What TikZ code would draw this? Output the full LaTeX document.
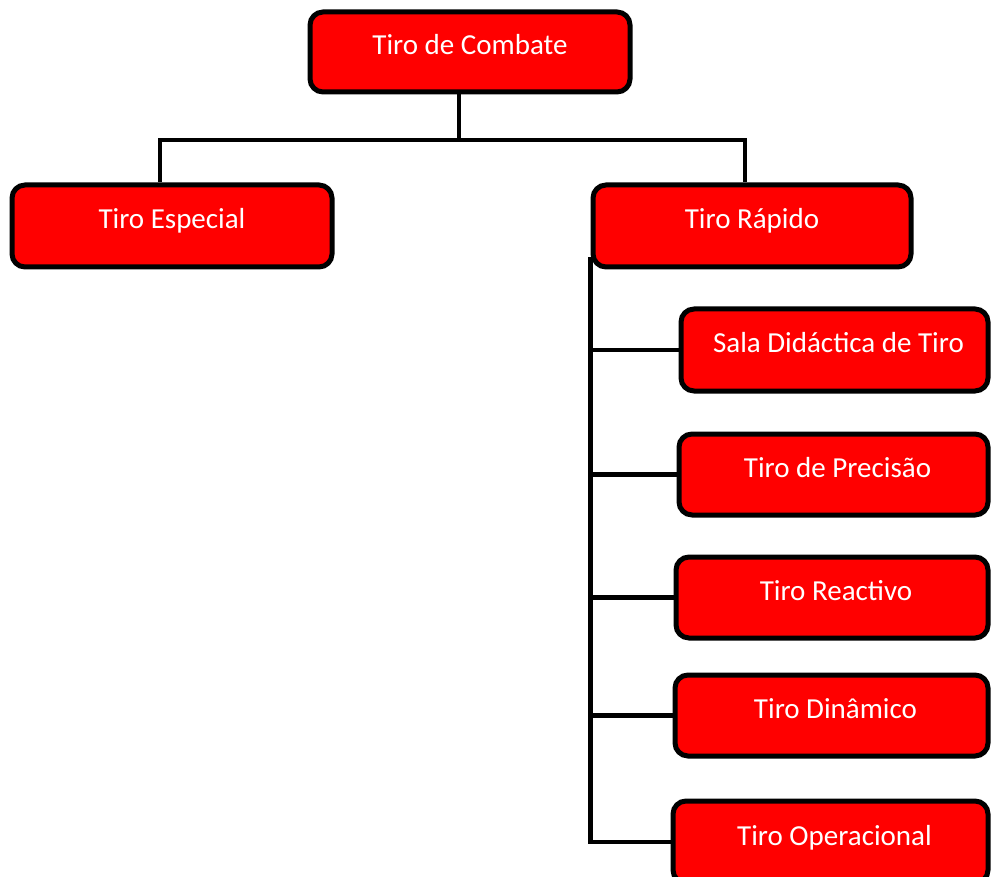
\documentclass[tikz,border=0pt]{standalone}
\usepackage{fontspec}
\setmainfont{Carlito}
\usepackage{tikz}
\usetikzlibrary{positioning, calc}
\definecolor{vermelho}{HTML}{FF0000}

\begin{document}
\begin{tikzpicture}[x=1pt, y=-1pt,
    caixa/.style={draw=black, line width=5pt, fill=vermelho, rounded corners=13pt,
        text=white, inner sep=0pt, font=\fontsize{29}{34}\selectfont,
        text height=14pt, text depth=8pt, minimum height=82pt},
    filho/.style={caixa, execute at begin node=\hspace*{8pt}},
    ligacao/.style={draw=black, line width=4.5pt}]
	\useasboundingbox (0,0) rectangle (991,877);

	\node[caixa, minimum width=320pt, minimum height=80pt] (combate) at (470,52) {Tiro de Combate};
	\node[caixa, minimum width=320pt] (especial) at (172,226) {Tiro Especial};
	\node[caixa, minimum width=318pt] (rapido) at (752,226) {Tiro Rápido};

	\node[filho, minimum width=307pt] (sala) at (834.5,350) {Sala Didáctica de Tiro};
	\node[filho, minimum width=309pt, minimum height=81pt] (precisao) at (833.5,474.5) {Tiro de Precisão};
	\node[filho, minimum width=312pt, minimum height=81pt] (reactivo) at (832,597.5) {Tiro Reactivo};
	\node[filho, minimum width=313pt, minimum height=81pt] (dinamico) at (831.5,715.5) {Tiro Dinâmico};
	\node[filho, minimum width=315pt] (operacional) at (830.5,842) {Tiro Operacional};

	% barra superior
	\coordinate (jt) at (459,140);
	\coordinate (jl) at (160,140);
	\coordinate (jr) at (745,140);
	\draw[ligacao] (jt |- combate.south) -- (jt);
	\draw[ligacao] (jl |- especial.north) -- (jl) -- (jr) -- (jr |- rapido.north);

	% tronco do Tiro Rapido
	\draw[ligacao] ([yshift=12pt]rapido.south west) -- (rapido.south west |- operacional.west) -- (operacional.west);
	\draw[ligacao] (rapido.south west |- sala.west) -- (sala.west);
	\draw[ligacao] (rapido.south west |- precisao.west) -- (precisao.west);
	\draw[ligacao] (rapido.south west |- reactivo.west) -- (reactivo.west);
	\draw[ligacao] (rapido.south west |- dinamico.west) -- (dinamico.west);
\end{tikzpicture}
\end{document}
